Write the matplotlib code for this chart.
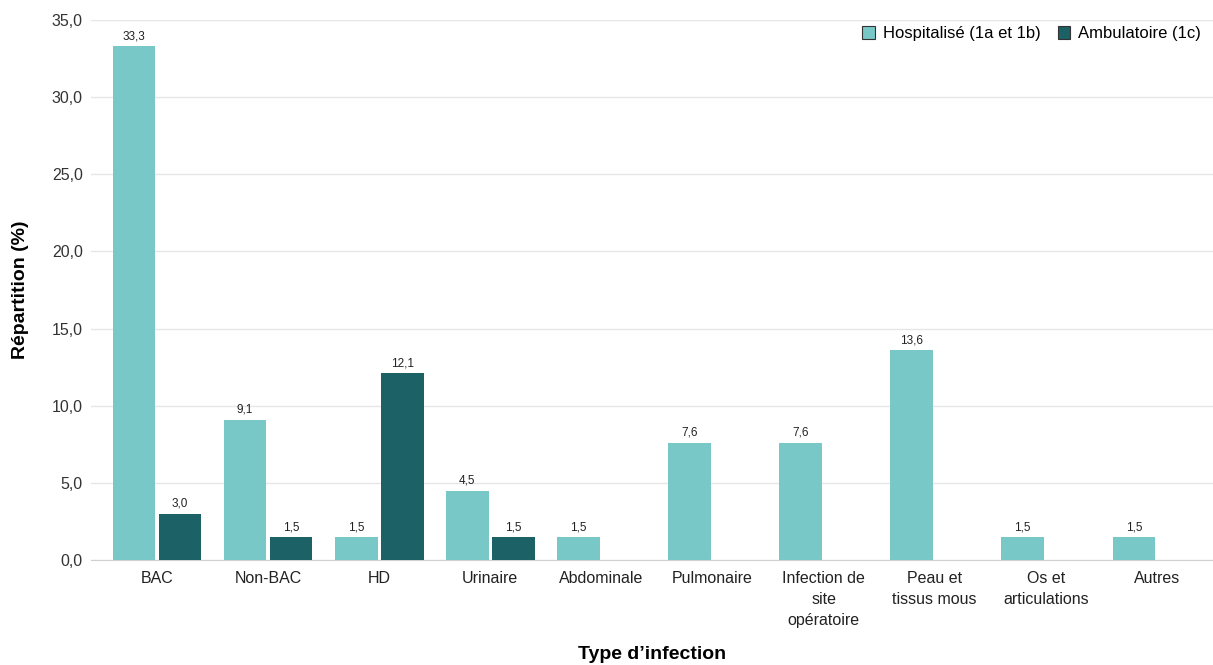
import numpy as np
import matplotlib.pyplot as plt

plt.rcParams['font.family'] = ['Liberation Sans', 'DejaVu Sans']

categories = ['BAC', 'Non-BAC', 'HD', 'Urinaire', 'Abdominale', 'Pulmonaire',
              'Infection de\nsite\nopératoire', 'Peau et\ntissus mous',
              'Os et\narticulations', 'Autres']
hospit = [33.3, 9.1, 1.5, 4.5, 1.5, 7.6, 7.6, 13.6, 1.5, 1.5]
ambul = [3.0, 1.5, 12.1, 1.5, None, None, None, None, None, None]

c_light = '#79c8c8'
c_dark = '#1c6166'


def fmt(v):
    return '{:.1f}'.format(v).replace('.', ',')


fig = plt.figure(figsize=(12.13, 6.65), dpi=100)
ax = fig.add_axes([91 / 1213, 1 - 560 / 665, 1 - 91 / 1213, (560 - 20) / 665])

x = np.arange(len(categories))
w = 0.385
off = 0.207

for i in range(len(categories)):
    h = hospit[i]
    ax.bar(x[i] - off, h, w, color=c_light, zorder=3)
    ax.text(x[i] - off, h + 0.25, fmt(h), ha='center', va='bottom', fontsize=8.5, color='#222222')
    a = ambul[i]
    if a is not None:
        ax.bar(x[i] + off, a, w, color=c_dark, zorder=3)
        ax.text(x[i] + off, a + 0.25, fmt(a), ha='center', va='bottom', fontsize=8.5, color='#222222')

ax.set_xlim(-0.594, 9.505)
ax.set_ylim(0, 35)
ax.set_yticks(np.arange(0, 35.1, 5))
ax.set_yticklabels([fmt(v) for v in np.arange(0, 35.1, 5)], fontsize=11.5, color='#333333')
ax.set_xticks(x)
ax.set_xticklabels(categories, fontsize=11.5, color='#222222', va='top', linespacing=1.5)
ax.tick_params(length=0, pad=8)
ax.tick_params(axis='y', pad=6)
ax.grid(axis='y', color='#e6e6e6', linewidth=1, zorder=0)
for s in ['top', 'right', 'left']:
    ax.spines[s].set_visible(False)
ax.spines['bottom'].set_color('#d0d0d0')

ax.set_ylabel('Répartition (%)', fontsize=14, fontweight='bold', labelpad=16)
ax.set_xlabel('Type d\u2019infection', fontsize=14, fontweight='bold', labelpad=13)

handles = [plt.Rectangle((0, 0), 1, 1, facecolor=c_light, edgecolor='#333333', linewidth=0.8),
           plt.Rectangle((0, 0), 1, 1, facecolor=c_dark, edgecolor='#333333', linewidth=0.8)]
ax.legend(handles, ['Hospitalisé (1a et 1b)', 'Ambulatoire (1c)'], loc='upper right',
          bbox_to_anchor=(1.0, 1.01), ncol=2, frameon=False, fontsize=12,
          handlelength=0.75, handleheight=0.75, handletextpad=0.5, columnspacing=1.0,
          borderaxespad=0.3)

fig.savefig('out.png', dpi=100)
